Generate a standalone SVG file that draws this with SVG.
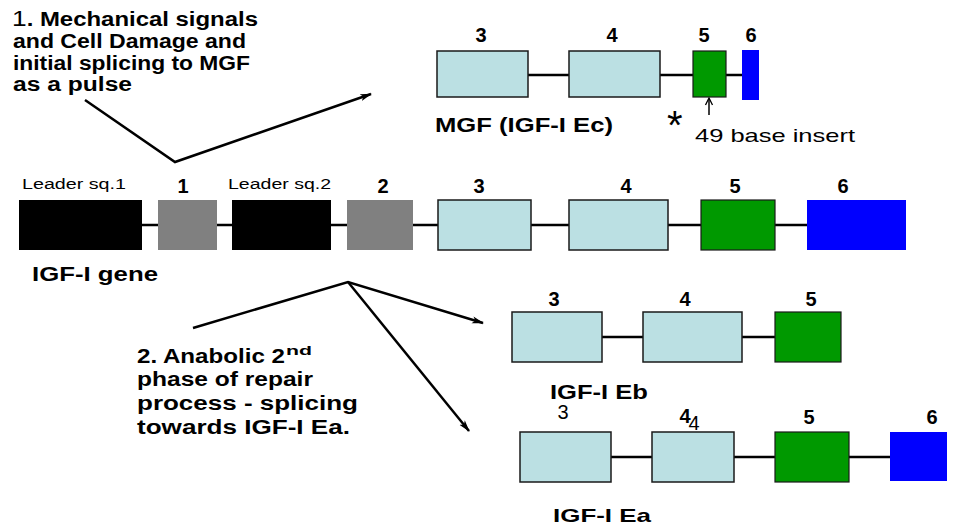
<svg xmlns="http://www.w3.org/2000/svg" width="962" height="526" viewBox="0 0 962 526">
<style>
text{font-family:"Liberation Sans",Arial,sans-serif;fill:#000}
.b{font-weight:bold}
.num{font-weight:bold;font-size:20px;text-anchor:middle}
.lb{fill:#BBE0E3;stroke:#1a1a1a;stroke-width:1.5}
.gr{fill:#009900;stroke:#1a1a1a;stroke-width:1.2}
.bl{fill:#0000FF}
.bk{fill:#000}
.gy{fill:#808080}
.intron{stroke:#000;stroke-width:2.5;fill:none}
.conn{stroke:#000;stroke-width:2.5;fill:none}
</style>
<defs>
<marker id="ah" viewBox="0 0 12 8" refX="11" refY="4" markerWidth="12" markerHeight="8" markerUnits="userSpaceOnUse" orient="auto">
<path d="M0,0.5 L12,4 L0,7.5 L3,4 z" fill="#000"/>
</marker>
</defs>

<!-- annotation texts -->
<g id="note1">
<text x="12" y="26" font-size="20" textLength="246" lengthAdjust="spacingAndGlyphs"><tspan font-size="22">1</tspan><tspan class="b">. Mechanical  signals</tspan></text>
<text class="b" x="13" y="48" font-size="20" textLength="233" lengthAdjust="spacingAndGlyphs">and Cell Damage and</text>
<text class="b" x="13" y="70" font-size="20" textLength="237" lengthAdjust="spacingAndGlyphs">initial splicing to MGF</text>
<text class="b" x="13" y="91" font-size="20" textLength="119" lengthAdjust="spacingAndGlyphs">as a pulse</text>
</g>
<g id="note2">
<text class="b" x="137" y="363" font-size="20" textLength="148" lengthAdjust="spacingAndGlyphs">2. Anabolic 2</text>
<text class="b" x="286" y="355" font-size="13" textLength="26" lengthAdjust="spacingAndGlyphs">nd</text>
<text class="b" x="137" y="386" font-size="20" textLength="176" lengthAdjust="spacingAndGlyphs">phase of repair</text>
<text class="b" x="137" y="410" font-size="20" textLength="221" lengthAdjust="spacingAndGlyphs">process - splicing</text>
<text class="b" x="137" y="434" font-size="20" textLength="213" lengthAdjust="spacingAndGlyphs">towards IGF-I Ea.</text>
</g>

<!-- connectors -->
<g id="connectors">
<path class="conn" d="M85,100 L175,162 L371,94" marker-end="url(#ah)"/>
<path class="conn" d="M193,328 L348,282 L483,323" marker-end="url(#ah)"/>
<path class="conn" d="M348,282 L469,431" marker-end="url(#ah)"/>
<path d="M709,115 L709,99" stroke="#000" stroke-width="1.5" fill="none"/>
<path d="M705.5,105 L709,98 L712.5,105" stroke="#000" stroke-width="1.3" fill="none"/>
</g>

<!-- MGF transcript -->
<g id="mgf">
<line class="intron" x1="528" y1="75" x2="742" y2="75"/>
<g id="mgf-e3"><rect class="lb" x="437" y="51" width="91" height="46"/><text class="num" x="481" y="42">3</text></g>
<g id="mgf-e4"><rect class="lb" x="569" y="51" width="91" height="46"/><text class="num" x="612" y="42">4</text></g>
<g id="mgf-e5"><rect class="gr" x="693" y="51" width="33" height="46"/><text class="num" x="704" y="42">5</text></g>
<g id="mgf-e6"><rect class="bl" x="742" y="50" width="17" height="50"/><text class="num" x="751" y="42">6</text></g>
<text class="b" x="435" y="132" font-size="20" textLength="178" lengthAdjust="spacingAndGlyphs">MGF (IGF-I Ec)</text>
<text x="667" y="139" font-size="40">*</text>
<text x="695" y="142" font-size="19" textLength="160" lengthAdjust="spacingAndGlyphs">49 base insert</text>
</g>

<!-- IGF-I gene -->
<g id="gene">
<line class="intron" x1="142" y1="225" x2="807" y2="225"/>
<g id="g-l1"><rect class="bk" x="19" y="200" width="123" height="50"/><text x="22" y="189" font-size="14" textLength="104" lengthAdjust="spacingAndGlyphs">Leader sq.1</text></g>
<g id="g-e1"><rect class="gy" x="158" y="200" width="59" height="50"/><text class="num" x="183" y="193">1</text></g>
<g id="g-l2"><rect class="bk" x="232" y="200" width="99" height="50"/><text x="228" y="189" font-size="14" textLength="103" lengthAdjust="spacingAndGlyphs">Leader sq.2</text></g>
<g id="g-e2"><rect class="gy" x="347" y="200" width="66" height="50"/><text class="num" x="383" y="193">2</text></g>
<g id="g-e3"><rect class="lb" x="438" y="200" width="93" height="50"/><text class="num" x="479" y="193">3</text></g>
<g id="g-e4"><rect class="lb" x="569" y="200" width="99" height="50"/><text class="num" x="626" y="193">4</text></g>
<g id="g-e5"><rect class="gr" x="701" y="200" width="74" height="50"/><text class="num" x="735" y="193">5</text></g>
<g id="g-e6"><rect class="bl" x="807" y="200" width="99" height="50"/><text class="num" x="843" y="193">6</text></g>
<text class="b" x="32" y="281" font-size="20" textLength="126" lengthAdjust="spacingAndGlyphs">IGF-I gene</text>
</g>

<!-- IGF-I Eb -->
<g id="eb">
<line class="intron" x1="602" y1="337" x2="775" y2="337"/>
<g id="eb-e3"><rect class="lb" x="512" y="312" width="90" height="50"/><text class="num" x="554" y="306">3</text></g>
<g id="eb-e4"><rect class="lb" x="643" y="312" width="99" height="50"/><text class="num" x="685" y="306">4</text></g>
<g id="eb-e5"><rect class="gr" x="775" y="312" width="66" height="50"/><text class="num" x="811" y="306">5</text></g>
<text class="b" x="550" y="399" font-size="20" textLength="98" lengthAdjust="spacingAndGlyphs">IGF-I Eb</text>
</g>

<!-- IGF-I Ea -->
<g id="ea">
<line class="intron" x1="611" y1="457" x2="890" y2="457"/>
<g id="ea-e3"><rect class="lb" x="520" y="432" width="91" height="50"/><text x="563" y="419" font-size="20" text-anchor="middle">3</text></g>
<g id="ea-e4"><rect class="lb" x="652" y="432" width="82" height="50"/><text class="num" x="685" y="423">4</text><text x="694" y="430" font-size="20" text-anchor="middle">4</text></g>
<g id="ea-e5"><rect class="gr" x="775" y="432" width="74" height="50"/><text class="num" x="809" y="424">5</text></g>
<g id="ea-e6"><rect class="bl" x="890" y="432" width="57" height="49"/><text class="num" x="932" y="424">6</text></g>
<text class="b" x="553" y="522" font-size="19" textLength="98" lengthAdjust="spacingAndGlyphs">IGF-I Ea</text>
</g>
</svg>
